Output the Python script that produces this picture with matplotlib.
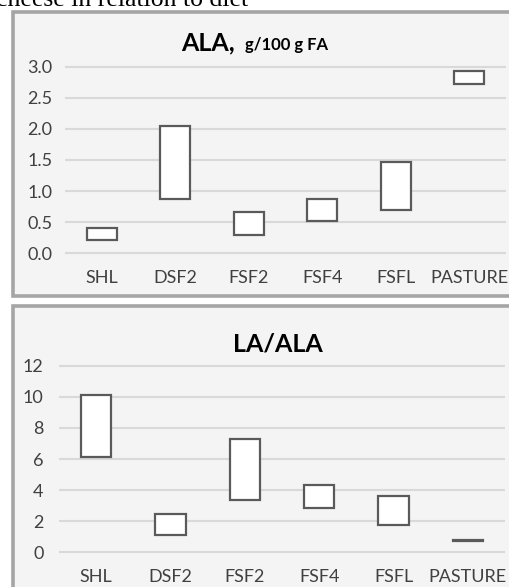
import matplotlib.pyplot as plt
from matplotlib.patches import Rectangle

# ranges per diet (low, high)
diets = ['SHL', 'DSF2', 'FSF2', 'FSF4', 'FSFL', 'PASTURE']
ala_low = [0.21, 0.88, 0.29, 0.52, 0.69, 2.72]
ala_high = [0.40, 2.04, 0.67, 0.87, 1.46, 2.93]
ratio_low = [6.15, 1.11, 3.36, 2.83, 1.76, 0.74]
ratio_high = [10.11, 2.44, 7.29, 4.33, 3.64, 0.80]
ala_ticks = [0.0, 0.5, 1.0, 1.5, 2.0, 2.5, 3.0]
ratio_ticks = [0, 2, 4, 6, 8, 10, 12]

W, H = 509, 587
plt.rcParams['font.family'] = ['Lato', 'DejaVu Sans']
fig = plt.figure(figsize=(W / 100, H / 100), dpi=100)
fig.patch.set_facecolor('white')


def px_box(x0, y0, x1, y1):
    # pixel box (top-left origin) -> figure fraction [l, b, w, h]
    return [x0 / W, 1 - y1 / H, (x1 - x0) / W, (y1 - y0) / H]


def panel(x0, y0, x1, y1):
    l, b, w, h = px_box(x0, y0, x1, y1)
    fig.patches.append(Rectangle((l, b), w, h, transform=fig.transFigure,
                                 facecolor='#f4f4f4', edgecolor='#a5a5a5',
                                 linewidth=2.6, zorder=-1))


def range_chart(x0, x1, y_top, y_zero, top_val, lows, highs, ticks, fmt, ypad):
    ppu = (y_zero - y_top) / top_val
    pad = 8
    ax = fig.add_axes(px_box(x0, y_top - pad, x1, y_zero + pad))
    ax.set_ylim(-pad / ppu, top_val + pad / ppu)
    ax.set_xlim(-0.5, len(diets) - 0.5)
    ax.patch.set_alpha(0)
    heights = [h - l for l, h in zip(lows, highs)]
    ax.bar(range(len(diets)), heights, bottom=lows, width=0.41,
           color='white', edgecolor='#5a5a5a', linewidth=1.6, zorder=3)
    ax.set_yticks(ticks)
    ax.set_yticklabels([fmt.format(t) for t in ticks])
    ax.set_xticks(range(len(diets)))
    ax.set_xticklabels(diets)
    ax.grid(axis='y', color='#d9d9d9', linewidth=1.5, zorder=1)
    ax.set_axisbelow(True)
    for s in ax.spines.values():
        s.set_visible(False)
    ax.tick_params(axis='both', length=0, labelsize=13, labelcolor='#404040')
    ax.tick_params(axis='y', pad=ypad)
    ax.tick_params(axis='x', pad=6)
    return ax


# caption line cut at the top of the page
fig.text(248 / W, 1 - 6 / H, 'cheese in relation to diet', ha='right',
         va='baseline', fontsize=18.5, family='Liberation Serif', color='black')

panel(13, 12, 530, 296)
panel(13, 306, 530, 610)

range_chart(65, 506, 66.7, 253.3, 3.0, ala_low, ala_high, ala_ticks, '{:.1f}', 9)
fig.text(235 / W, 1 - 50 / H, 'ALA,', ha='right', va='baseline',
         fontsize=18, fontweight='bold', color='black')
fig.text(245 / W, 1 - 50 / H, 'g/100 g FA', ha='left', va='baseline',
         fontsize=12, fontweight='bold', color='black')

range_chart(59, 505, 365.7, 552.3, 12, ratio_low, ratio_high, ratio_ticks, '{:d}', 11)
fig.text(278 / W, 1 - 352 / H, 'LA/ALA', ha='center', va='baseline',
         fontsize=18, fontweight='bold', color='black')

fig.savefig('out.png', dpi=100)
